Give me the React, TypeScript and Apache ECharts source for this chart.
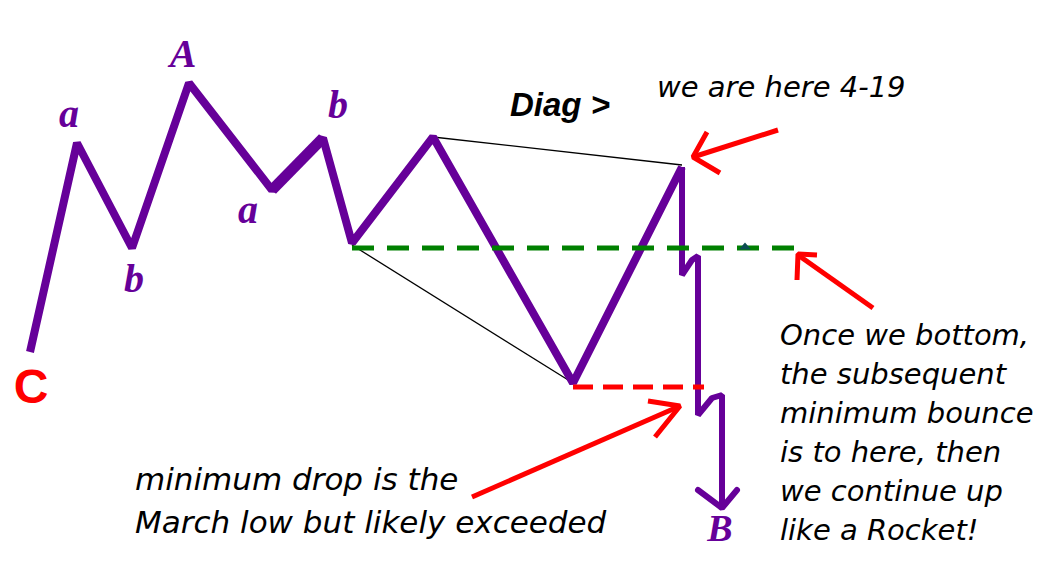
import React, { useEffect, useRef } from "react";
import * as echarts from "echarts";

// ---- data (x = time position, y = level, axis inverted) ----
const waveX = [30, 77, 132, 189, 272, 323, 352, 433, 573, 682];
const waveY = [352, 143, 248, 83, 190, 138, 243, 137, 383, 167];
const thickLegX = [272, 323];
const thickLegY = [190, 138];
const dropX = [682, 682, 692, 698, 698, 712, 722, 722];
const dropY = [167, 275, 260, 256, 415, 398, 395, 508];
const dropHeadX = [698, 722, 737];
const dropHeadY = [490, 508, 490];

const diagUpperX = [433, 682];
const diagUpperY = [137, 165];
const diagLowerX = [352, 573];
const diagLowerY = [245, 383];

const bounceLineX = [352, 797];
const bounceLineY = [248, 248];
const marchLowX = [573, 704];
const marchLowY = [387, 387];

const arrowShaftX = [[778, 693], [873, 798], [472, 680]];
const arrowShaftY = [[130, 157], [308, 255], [497, 406]];
const arrowHeadX = [[707, 693, 720], [817, 798, 797], [648, 680, 655]];
const arrowHeadY = [[132, 157, 173], [255, 254, 280], [401, 406, 437]];

const waveLabels = ["a", "b", "A", "a", "b", "B"];
const waveLabelX = [69, 134, 183, 248, 338, 720];
const waveLabelY = [113, 278, 53, 209, 104, 528];

const noteTexts = [
  "Diag >",
  "we are here 4-19",
  "Once we bottom,\nthe subsequent\nminimum bounce\nis to here, then\nwe continue up\nlike a Rocket!",
  "minimum drop is the\nMarch low but likely exceeded",
];
const noteX = [510, 657, 780, 135];
const noteY = [104, 87, 315, 457];

const PURPLE = "#660099";
const RED = "#ff0000";
const GREEN = "#008000";

const zip = (xs: number[], ys: number[]) => xs.map((x, i) => [x, ys[i]]);

function lineSeries(xs: number[], ys: number[], color: string, width: number, z: number, extra: any = {}) {
  return {
    type: "line",
    data: zip(xs, ys),
    showSymbol: false,
    symbol: "none",
    silent: true,
    z,
    lineStyle: { color, width, join: "bevel", opacity: 1, ...extra },
  };
}

export default function App() {
  const ref = useRef<HTMLDivElement>(null);
  useEffect(() => {
    if (!ref.current) return;
    const chart = echarts.init(ref.current, undefined, { renderer: "svg" });

    const series: any[] = [];
    series.push(lineSeries(diagUpperX, diagUpperY, "#000", 1.3, 1));
    series.push(lineSeries(diagLowerX, diagLowerY, "#000", 1.3, 1));
    series.push(lineSeries(waveX, waveY, PURPLE, 8, 2));
    series.push(lineSeries(thickLegX, thickLegY, PURPLE, 11, 2));
    series.push(lineSeries(dropX, dropY, PURPLE, 6, 2));
    series.push(lineSeries(dropHeadX, dropHeadY, PURPLE, 6, 2, { cap: "round" }));
    series.push(lineSeries(bounceLineX, bounceLineY, GREEN, 5, 3, { type: [22, 13] }));
    series.push(lineSeries(marchLowX, marchLowY, RED, 5, 3, { type: [20, 10] }));
    arrowShaftX.forEach((xs, i) => {
      series.push(lineSeries(xs, arrowShaftY[i], RED, 5, 4));
      series.push(lineSeries(arrowHeadX[i], arrowHeadY[i], RED, 5, 4));
    });
    series.push({
      type: "scatter",
      silent: true,
      z: 3,
      symbol: "triangle",
      symbolSize: [12, 7],
      itemStyle: { color: "#0b4d52", opacity: 1 },
      data: [[745, 246]],
    });

    const labelData: any[] = [];
    waveLabels.forEach((t, i) => {
      labelData.push({
        value: [waveLabelX[i], waveLabelY[i]],
        label: {
          show: true,
          position: "inside",
          formatter: () => t,
          align: "center",
          verticalAlign: "middle",
          fontFamily: "Liberation Serif",
          fontStyle: "italic",
          fontWeight: "bold",
          fontSize: t === "B" ? 38 : 40,
          color: PURPLE,
          opacity: 1,
        },
      });
    });
    labelData.push({
      value: [31, 386],
      label: {
        show: true,
        position: "inside",
        formatter: () => "C",
        align: "center",
        verticalAlign: "middle",
        fontFamily: "Liberation Sans",
        fontWeight: "bold",
        fontSize: 48,
        color: RED,
        opacity: 1,
      },
    });
    noteTexts.forEach((t, i) => {
      const isDiag = i === 0;
      labelData.push({
        value: [noteX[i], noteY[i]],
        label: {
          show: true,
          position: "inside",
          formatter: () => t,
          align: "left",
          verticalAlign: i >= 2 ? "top" : "middle",
          fontFamily: isDiag ? "Liberation Sans" : "DejaVu Sans",
          fontStyle: "italic",
          fontWeight: isDiag ? "bold" : "normal",
          fontSize: isDiag ? 33 : i === 3 ? 31 : 29,
          lineHeight: i === 3 ? 43 : 39,
          color: "#000000",
          opacity: 1,
        },
      });
    });
    series.push({
      type: "scatter",
      silent: true,
      z: 5,
      symbolSize: 1,
      itemStyle: { color: "rgba(0,0,0,0)", opacity: 1 },
      data: labelData,
    });

    chart.setOption({
      animation: false,
      backgroundColor: "#ffffff",
      grid: { left: 0, right: 0, top: 0, bottom: 0, containLabel: false },
      xAxis: { type: "value", min: 0, max: 1044, show: false },
      yAxis: { type: "value", min: 0, max: 579, inverse: true, show: false },
      series,
    });
    return () => chart.dispose();
  }, []);
  return (
    <div
      ref={ref}
      style={{ position: "absolute", left: 0, top: 0, width: 1044, height: 579 }}
    />
  );
}
